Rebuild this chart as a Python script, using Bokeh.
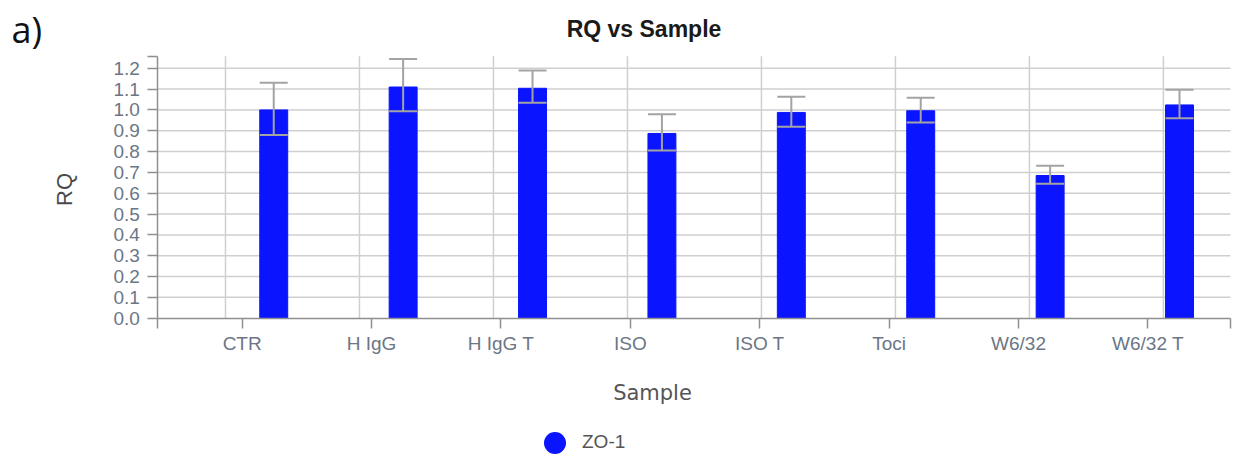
import math
from bokeh.plotting import figure
from bokeh.models import (Range1d, FixedTicker, ColumnDataSource, Whisker, TeeHead,
                          Label, Legend, LegendItem)
from bokeh.embed import file_html
from bokeh.resources import INLINE

# ---- data ----
samples = ["CTR", "H IgG", "H IgG T", "ISO", "ISO T", "Toci", "W6/32", "W6/32 T"]
rq = [1.0, 1.11, 1.104, 0.887, 0.988, 0.996, 0.685, 1.024]
rq_max = [1.13, 1.245, 1.189, 0.979, 1.063, 1.058, 0.732, 1.097]
rq_min = [0.88, 0.994, 1.034, 0.805, 0.919, 0.940, 0.645, 0.960]
y_ticks = [0.0, 0.1, 0.2, 0.3, 0.4, 0.5, 0.6, 0.7, 0.8, 0.9, 1.0, 1.1, 1.2]
series_name = "ZO-1"
title_text = "RQ vs Sample"
x_title = "Sample"
y_title = "RQ"
panel_tag = "a)"

# ---- layout / style constants ----
W, H = 1234, 456
PLOT_L, PLOT_R, PLOT_T, PLOT_B = 157.3, 1230.0, 55.7, 317.7   # pixel box of the axes
BLUE = "#0a14ff"
TICK_COLOR = "#6b7686"
AXIS_COLOR = "#8f8f8f"
GRID_COLOR = "#cfcfcf"
ERR_COLOR = "#a3a3a3"
X_START, X_END = -0.652, 7.638
Y_END = 1.258
BAR_OFFSET = 0.244
BAR_WIDTH = 0.216
GRID_START, GRID_STEP = -0.129, 1.0355

# the frame covers the whole canvas; map pixel box onto data ranges
kx = (PLOT_R - PLOT_L) / (X_END - X_START)
ky = (PLOT_B - PLOT_T) / (Y_END - 0.0)
x_lo = X_START - PLOT_L / kx
x_hi = X_END + (W - PLOT_R) / kx
y_hi = Y_END + PLOT_T / ky
y_lo = 0.0 - (H - PLOT_B) / ky


def px_x(px):
    return X_START + (px - PLOT_L) / kx


def px_y(py):
    return (PLOT_B - py) / ky


n = len(samples)
cat_pos = list(range(n))
bar_x = [i + BAR_OFFSET for i in cat_pos]

src = ColumnDataSource(dict(x=bar_x, rq=rq, upper=rq_max, lower=rq_min, name=samples))

p = figure(width=W, height=H,
           x_range=Range1d(x_lo, x_hi), y_range=Range1d(y_lo, y_hi),
           output_backend="svg", toolbar_location=None)
p.min_border = 0
p.min_border_left = 0
p.min_border_right = 0
p.min_border_top = 0
p.min_border_bottom = 0
p.outline_line_color = None
p.background_fill_color = "white"
p.border_fill_color = "white"
p.grid.visible = False

# grid lines (limited to the axes box)
gx = [GRID_START + GRID_STEP * k for k in range(n)]
p.segment(x0=gx, y0=[0.0] * n, x1=gx, y1=[Y_END] * n,
          line_color=GRID_COLOR, line_width=1.5)
hy = y_ticks[1:]
p.segment(x0=[X_START] * len(hy), y0=hy, x1=[X_END] * len(hy), y1=hy,
          line_color=GRID_COLOR, line_width=1.5)

# bars
p.vbar(x="x", top="rq", width=BAR_WIDTH, bottom=0, source=src,
       fill_color=BLUE, line_color=BLUE, line_width=1)

# error bars, drawn on top of the bars
wh = Whisker(base="x", upper="upper", lower="lower", source=src, level="annotation",
             line_color=ERR_COLOR, line_width=2,
             upper_head=TeeHead(size=28, line_color=ERR_COLOR, line_width=2),
             lower_head=TeeHead(size=28, line_color=ERR_COLOR, line_width=2))
p.add_layout(wh)

# x axis, drawn at y = 0
xa = p.xaxis[0]
xa.fixed_location = 0.0
xa.bounds = (X_START, X_END)
xa.ticker = FixedTicker(ticks=[X_START] + cat_pos + [X_END])
overrides = {float(i): s for i, s in zip(cat_pos, samples)}
overrides[X_START] = ""
overrides[X_END] = ""
xa.major_label_overrides = overrides
xa.major_label_text_font = "Liberation Sans"
xa.major_label_text_font_size = "19px"
xa.major_label_text_color = TICK_COLOR
xa.major_label_standoff = 5
xa.axis_line_color = AXIS_COLOR
xa.axis_line_width = 1.5
xa.major_tick_line_color = AXIS_COLOR
xa.major_tick_line_width = 1.5
xa.major_tick_out = 10
xa.major_tick_in = 0
xa.minor_tick_line_color = None

# y axis, drawn at x = X_START
ya = p.yaxis[0]
ya.fixed_location = X_START
ya.bounds = (0.0, Y_END)
ya.ticker = FixedTicker(ticks=y_ticks + [Y_END])
yover = {t: f"{t:.1f}" for t in y_ticks}
yover[Y_END] = ""
ya.major_label_overrides = yover
ya.major_label_text_font = "Liberation Sans"
ya.major_label_text_font_size = "19px"
ya.major_label_text_color = TICK_COLOR
ya.major_label_standoff = 8
ya.axis_line_color = AXIS_COLOR
ya.axis_line_width = 1.5
ya.major_tick_line_color = AXIS_COLOR
ya.major_tick_line_width = 1.5
ya.major_tick_out = 10
ya.major_tick_in = 0
ya.minor_tick_line_color = None

# texts
p.add_layout(Label(x=px_x(643.5), y=px_y(28.0), text=title_text,
                   text_font="Liberation Sans", text_font_size="23px",
                   text_font_style="bold", text_color="#1a1a1a",
                   text_align="center", text_baseline="alphabetic"))
p.add_layout(Label(x=px_x(11.0), y=px_y(29.0), text=panel_tag,
                   text_font="Open Sans", text_font_size="36px",
                   text_color="#111111", text_align="left", text_baseline="alphabetic"))
p.add_layout(Label(x=px_x(64.0), y=px_y(189.0), text=y_title, angle=math.pi / 2,
                   text_font="Liberation Sans", text_font_size="22px",
                   text_color="#4a4a4a", text_align="center", text_baseline="middle"))
p.add_layout(Label(x=px_x(652.0), y=px_y(392.5), text=x_title,
                   text_font="DejaVu Sans", text_font_size="21px",
                   text_color="#555555", text_align="center", text_baseline="alphabetic"))

# legend (circle marker, drawn only in the legend)
sc = p.scatter(x="x", y="rq", size=0, source=src, marker="circle",
               fill_color=BLUE, line_color=None)
LEG_GLYPH = 55
leg_left = 554.5 - LEG_GLYPH / 2
leg_bottom = 442.3 + LEG_GLYPH / 2
legend = Legend(items=[LegendItem(label=series_name, renderers=[sc])],
                location=(leg_left, H - leg_bottom), orientation="horizontal",
                glyph_width=LEG_GLYPH, glyph_height=LEG_GLYPH, label_standoff=0,
                padding=0, margin=0, spacing=0,
                border_line_color=None, background_fill_alpha=0,
                label_text_font="Liberation Sans", label_text_font_size="19px",
                label_text_color="#555555")
p.add_layout(legend)

open("out.html", "w").write(file_html(p, INLINE))
